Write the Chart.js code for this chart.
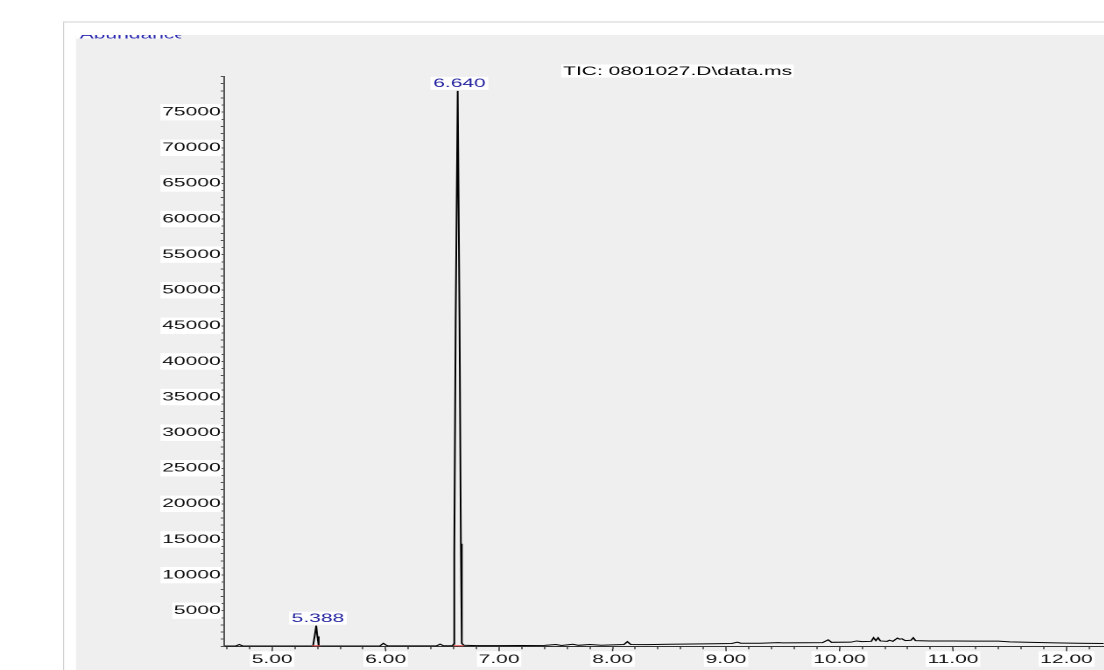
<!DOCTYPE html>
<html><head><meta charset="utf-8">
<script src="https://cdn.jsdelivr.net/npm/chart.js@4"></script>
<style>
html,body{margin:0;padding:0;background:#fff;overflow:hidden;width:1104px;height:670px;}
#wrap{position:absolute;left:0;top:0;width:630.857px;height:670px;transform:scaleX(1.75);transform-origin:0 0;}
</style></head><body>
<div id="wrap"><canvas id="c"></canvas></div>
<script>
// ---- data ----
const chartTitle = 'TIC: 0801027.D\\data.ms';
const yAxisTitle = 'Abundance';
const retentionTimes = [
  4.58, 4.68, 4.71, 4.74, 4.90, 5.10, 5.30, 5.36, 5.375, 5.388, 5.398, 5.41,
  5.60, 5.80, 5.95, 5.98, 6.00, 6.02, 6.30, 6.45, 6.48, 6.51, 6.59, 6.599, 6.605, 6.617,
  6.635, 6.651, 6.663, 6.671, 6.69, 6.80, 7.00, 7.20, 7.40, 7.50, 7.55, 7.65, 7.70, 7.80,
  7.90, 8.00, 8.10, 8.13, 8.16, 8.30, 8.50, 8.70, 8.90, 9.05, 9.10, 9.13, 9.30, 9.46, 9.50,
  9.70, 9.85, 9.90, 9.93, 10.10, 10.15, 10.20, 10.28, 10.30, 10.32, 10.34, 10.36, 10.42,
  10.44, 10.47, 10.51, 10.53, 10.55, 10.58, 10.63, 10.65, 10.67, 10.80, 11.00, 11.20,
  11.40, 11.50, 11.70, 11.90, 12.10, 12.33
];
const abundances = [
  40, 50, 250, 50, 40, 40, 50, 60, 1500, 2900, 1400, 60,
  50, 50, 60, 420, 200, 60, 60, 70, 300, 70, 80, 300, 13100, 45800,
  78000, 45800, 14400, 400, 150, 100, 100, 110, 130, 250, 120, 280, 140, 260,
  150, 200, 250, 650, 260, 230, 280, 320, 360, 400, 580, 430, 420, 520, 480,
  500, 520, 900, 560, 580, 750, 650, 700, 1200, 800, 1200, 750, 700,
  850, 700, 1150, 1000, 1050, 800, 850, 1200, 800, 750, 740, 720,
  720, 620, 550, 480, 430, 400
];
const peakLabels = ['5.388', '6.640'];
const peakTimes = [5.388, 6.635];
const peakHeights = [2900, 78000];
const peakStarts = [5.352, 6.598];
const peakEnds = [5.422, 6.688];
const xMajorTicks = [5, 6, 7, 8, 9, 10, 11, 12];
const yLabelTicks = [5000, 10000, 15000, 20000, 25000, 30000, 35000, 40000, 45000, 50000, 55000, 60000, 65000, 70000, 75000];

// ---- styling ----
const FONT = '"Liberation Sans", Arial, sans-serif';

const decor = {
  id: 'decor',
  beforeDraw(chart) {
    const ctx = chart.ctx, W = chart.width, H = chart.height;
    ctx.save();
    ctx.fillStyle = '#fff';
    ctx.fillRect(0, 0, W, H);
    ctx.fillStyle = '#d2d2d2';
    ctx.fillRect(36, 21.5, W - 36, 1);
    ctx.fillRect(36, 21.5, 0.6, H);
    ctx.fillStyle = '#efefef';
    ctx.fillRect(43.4, 35, W - 43.4, H - 35);
    ctx.fillStyle = '#fff';
    ctx.fillRect(43.4, 35, 58.5, 3.5);
    ctx.beginPath();
    ctx.rect(43.4, 35, 60, 4);
    ctx.clip();
    ctx.fillStyle = '#2a2ab0';
    ctx.font = '12px ' + FONT;
    ctx.textBaseline = 'alphabetic';
    ctx.textAlign = 'left';
    ctx.fillText(yAxisTitle, 45.5, 38.3);
    ctx.restore();
  },
  afterDatasetsDraw(chart) {
    const ctx = chart.ctx;
    const xs = chart.scales.x, ys = chart.scales.y;
    ctx.save();
    ctx.font = '12px ' + FONT;
    // title
    ctx.textBaseline = 'middle';
    ctx.textAlign = 'left';
    const tw = ctx.measureText(chartTitle).width;
    ctx.fillStyle = '#fff';
    ctx.fillRect(320.5, 64.5, tw + 2, 13);
    ctx.fillStyle = '#000';
    ctx.fillText(chartTitle, 321.5, 71.5);
    // longer major x ticks
    ctx.strokeStyle = '#333';
    ctx.lineWidth = 0.7;
    const axisY = xs.top;
    for (const m of xMajorTicks) {
      const px = xs.getPixelForValue(m);
      ctx.beginPath();
      ctx.moveTo(px, axisY + 2.5);
      ctx.lineTo(px, axisY + 5);
      ctx.stroke();
    }
    // integration markers
    ctx.strokeStyle = '#e04040';
    ctx.lineWidth = 1;
    for (let i = 0; i < peakLabels.length; i++) {
      const y0 = ys.getPixelForValue(0) - 0.5;
      ctx.beginPath();
      ctx.moveTo(xs.getPixelForValue(peakStarts[i]), y0);
      ctx.lineTo(xs.getPixelForValue(peakEnds[i]), y0);
      ctx.stroke();
    }
    // peak labels
    ctx.textAlign = 'center';
    for (let i = 0; i < peakLabels.length; i++) {
      const px = xs.getPixelForValue(peakTimes[i]) + 1;
      const py = ys.getPixelForValue(peakHeights[i]);
      const w = ctx.measureText(peakLabels[i]).width + 3;
      ctx.fillStyle = '#fff';
      ctx.fillRect(px - w / 2, py - 14, w, 13);
      ctx.fillStyle = '#2424a0';
      ctx.fillText(peakLabels[i], px, py - 7);
    }
    ctx.restore();
  }
};

const isMajorX = v => xMajorTicks.some(m => Math.abs(m - v) < 1e-6);
const isLabelY = v => yLabelTicks.some(m => Math.abs(m - v) < 1e-6);

new Chart(document.getElementById('c'), {
  type: 'line',
  data: {
    datasets: [{
      data: retentionTimes.map((t, i) => ({x: t, y: abundances[i]})),
      borderColor: '#000',
      borderWidth: 1,
      pointRadius: 0,
      tension: 0,
      fill: false
    }]
  },
  options: {
    responsive: true,
    maintainAspectRatio: false,
    animation: false,
    devicePixelRatio: 2,
    layout: {padding: {top: 76.6, left: 0, right: 0, bottom: 0}},
    plugins: {legend: {display: false}, tooltip: {enabled: false}, title: {display: false}},
    scales: {
      x: {
        type: 'linear',
        position: 'bottom',
        min: 4.577,
        max: 12.33,
        afterFit: s => { s.height = 23.7; },
        border: {display: true, color: '#333', width: 1},
        grid: {drawOnChartArea: false, drawTicks: true, tickLength: 3, tickColor: '#333', tickWidth: 0.7},
        ticks: {
          stepSize: 0.2,
          includeBounds: false,
          autoSkip: false,
          maxRotation: 0,
          minRotation: 0,
          padding: 3,
          color: '#111',
          font: {family: FONT, size: 12},
          showLabelBackdrop: c => isMajorX(c.tick.value),
          backdropColor: '#fff',
          backdropPadding: {top: 1, bottom: 0, left: 1, right: 1},
          callback: v => isMajorX(v) ? Math.round(v).toFixed(2) : ''
        }
      },
      y: {
        type: 'linear',
        position: 'left',
        min: 0,
        max: 80000,
        afterFit: s => { s.width = 128; },
        border: {display: true, color: '#555', width: 1},
        grid: {drawOnChartArea: false, drawTicks: true, tickLength: 2, tickColor: '#555', tickWidth: 1},
        ticks: {
          stepSize: 1000,
          autoSkip: false,
          padding: 0,
          color: '#111',
          font: {family: FONT, size: 12},
          showLabelBackdrop: c => isLabelY(c.tick.value),
          backdropColor: '#fff',
          backdropPadding: {top: 1, bottom: 1, left: 1, right: 0.5},
          callback: v => isLabelY(v) ? String(Math.round(v)) : ''
        }
      }
    }
  },
  plugins: [decor]
});
</script>
</body></html>
